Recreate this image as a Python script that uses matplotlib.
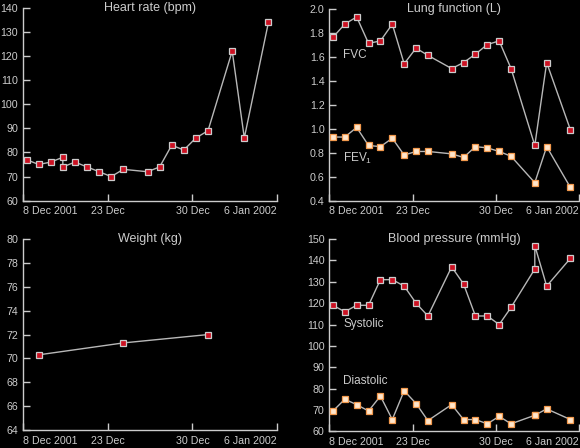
import numpy as np
import pandas as pd
import matplotlib
matplotlib.use("Agg")
from matplotlib import pyplot as plt

plt.rcParams['font.family'] = ['Liberation Sans', 'DejaVu Sans']
plt.rcParams['mathtext.fontset'] = 'custom'
plt.rcParams['mathtext.rm'] = 'Liberation Sans'
plt.rcParams['mathtext.it'] = 'Liberation Sans'

FG = '#cccccc'
LINE = '#b8b8b8'
RED = '#cc1122'
OPEN_FACE = '#ffe6cc'
OPEN_EDGE = '#f39a4e'

# measurement times (morning readings)
heart_dates = ['2001-12-16', '2001-12-17', '2001-12-18', '2001-12-19', '2001-12-19',
               '2001-12-20', '2001-12-21', '2001-12-22', '2001-12-23', '2001-12-24',
               '2001-12-26', '2001-12-27', '2001-12-28', '2001-12-29', '2001-12-30',
               '2001-12-31', '2002-01-02', '2002-01-03', '2002-01-05']
heart_rate = [77, 75, 76, 78, 74, 76, 74, 72, 70, 73, 72, 74, 83, 81, 86, 89, 122, 86, 134]

lung_dates = ['2001-12-16', '2001-12-17', '2001-12-18', '2001-12-19', '2001-12-20',
              '2001-12-21', '2001-12-22', '2001-12-23', '2001-12-24', '2001-12-26',
              '2001-12-27', '2001-12-28', '2001-12-29', '2001-12-30', '2001-12-31',
              '2002-01-02', '2002-01-03', '2002-01-05']
fvc = [1.76, 1.87, 1.93, 1.71, 1.73, 1.87, 1.54, 1.67, 1.61, 1.50, 1.55, 1.62,
       1.70, 1.73, 1.50, 0.86, 1.55, 0.99]
fev1 = [0.93, 0.93, 1.01, 0.86, 0.85, 0.92, 0.78, 0.81, 0.81, 0.79, 0.76, 0.85,
        0.84, 0.81, 0.77, 0.55, 0.85, 0.51]

weight_dates = ['2001-12-17', '2001-12-24', '2001-12-31']
weight = [70.3, 71.3, 72.0]

bp_dates = ['2001-12-16', '2001-12-17', '2001-12-18', '2001-12-19', '2001-12-20',
            '2001-12-21', '2001-12-22', '2001-12-23', '2001-12-24', '2001-12-26',
            '2001-12-27', '2001-12-28', '2001-12-29', '2001-12-30', '2001-12-31',
            '2002-01-02', '2002-01-02', '2002-01-03', '2002-01-05']
systolic = [119, 116, 119, 119, 131, 131, 128, 120, 114, 137, 129, 114, 114, 110,
            118, 136, 147, 128, 141]
diastolic = [69.5, 75, 72.5, 69.5, 76.5, 65.5, 79, 73, 65, 72.5, 65.5, 65.5, 63.5,
             67, 63.5, 67.5, 67.5, 70.5, 65.5]

x_ticks = ['2001-12-16', '2001-12-23', '2001-12-30', '2002-01-06']
x_ticklabels = ['8 Dec 2001', '23 Dec', '30 Dec', '6 Jan 2002']
READ_TIME = pd.Timedelta(hours=7)


def to_times(dates):
    return pd.to_datetime(dates) + READ_TIME


def style_axes(ax, title, yticks, fmt):
    ax.set_facecolor('black')
    for side in ['top', 'right']:
        ax.spines[side].set_visible(False)
    for side in ['left', 'bottom']:
        ax.spines[side].set_color(FG)
        ax.spines[side].set_linewidth(1.0)
    ax.set_xlim(pd.Timestamp(x_ticks[0]), pd.Timestamp(x_ticks[-1]))
    ax.set_ylim(yticks[0], yticks[-1])
    ax.set_yticks(yticks)
    ax.set_yticklabels([fmt.format(v) for v in yticks])
    ax.set_xticks(pd.to_datetime(x_ticks))
    ax.set_xticklabels(x_ticklabels)
    ax.tick_params(direction='in', length=5, width=1, color=FG, labelcolor=FG,
                   labelsize=7.7)
    ax.tick_params(axis='y', pad=3.5)
    ax.tick_params(axis='x', pad=4)
    labels = ax.get_xticklabels()
    labels[0].set_ha('left')
    labels[-1].set_ha('right')
    ax.set_title(title, color=FG, fontsize=9, y=1.0, va='center', pad=0)
    for spine in ax.spines.values():
        spine.set_clip_on(False)


def plot_filled(ax, dates, values):
    ax.plot(to_times(dates), values, '-', color=LINE, lw=1.0, marker='s', ms=4.8,
            mfc=RED, mec=FG, mew=0.9, clip_on=False, zorder=3)


def plot_open(ax, dates, values):
    ax.plot(to_times(dates), values, '-', color=LINE, lw=1.0, marker='s', ms=4.8,
            mfc=OPEN_FACE, mec=OPEN_EDGE, mew=0.9, clip_on=False, zorder=3)


fig = plt.figure(figsize=(5.8, 4.48), dpi=100, facecolor='black')
ax_hr = fig.add_axes([0.0397, 0.552, 0.438, 0.431])
ax_lung = fig.add_axes([0.568, 0.552, 0.430, 0.429])
ax_wt = fig.add_axes([0.0397, 0.0402, 0.438, 0.426])
ax_bp = fig.add_axes([0.568, 0.0373, 0.430, 0.429])

style_axes(ax_hr, 'Heart rate (bpm)', np.arange(60, 141, 10), '{:.0f}')
plot_filled(ax_hr, heart_dates, heart_rate)

style_axes(ax_lung, 'Lung function (L)', np.round(np.arange(0.4, 2.01, 0.2), 1), '{:.1f}')
plot_filled(ax_lung, lung_dates, fvc)
plot_open(ax_lung, lung_dates, fev1)
ax_lung.text(0.055, 0.757, 'FVC', transform=ax_lung.transAxes, color=FG,
             fontsize=8.5, va='center', ha='left')
ax_lung.text(0.055, 0.222, 'FEV$_1$', transform=ax_lung.transAxes, color=FG,
             fontsize=8.5, va='center', ha='left')

style_axes(ax_wt, 'Weight (kg)', np.arange(64, 81, 2), '{:.0f}')
plot_filled(ax_wt, weight_dates, weight)

style_axes(ax_bp, 'Blood pressure (mmHg)', np.arange(60, 151, 10), '{:.0f}')
plot_filled(ax_bp, bp_dates, systolic)
plot_open(ax_bp, bp_dates, diastolic)
ax_bp.text(0.055, 0.558, 'Systolic', transform=ax_bp.transAxes, color=FG,
           fontsize=8.5, va='center', ha='left')
ax_bp.text(0.055, 0.262, 'Diastolic', transform=ax_bp.transAxes, color=FG,
           fontsize=8.5, va='center', ha='left')

fig.savefig('out.png', dpi=100, facecolor='black')
